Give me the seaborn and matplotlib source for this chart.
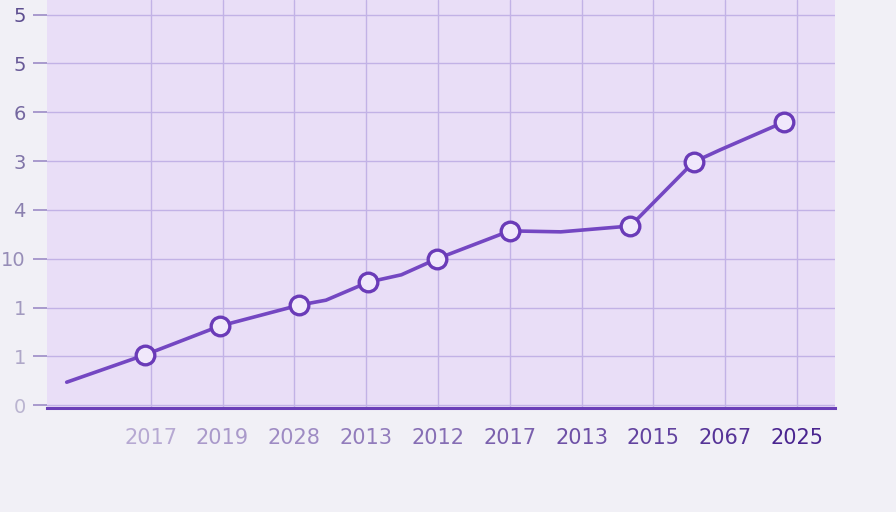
import matplotlib
matplotlib.use('Agg')
import matplotlib.pyplot as plt
import seaborn as sns
import pandas as pd

sns.set_theme(style='whitegrid')
plt.rcParams['font.family'] = ['Liberation Sans Narrow', 'DejaVu Sans']

# tick labels as they appear on the chart
x_labels = ['2017', '2019', '2028', '2013', '2012', '2017', '2013', '2015', '2067', '2025']
y_labels = ['0', '1', '1', '10', '4', '3', '6', '5', '5']

# line path (x in tick-slot units, y in row units)
line_x = [-1.17, -0.08, 0.96, 2.07, 2.44, 3.03, 3.49, 3.99, 5.0, 5.71, 6.68, 7.56, 7.93, 8.82]
line_y = [0.47, 1.03, 1.62, 2.05, 2.15, 2.52, 2.67, 3.0, 3.57, 3.55, 3.67, 4.98, 5.23, 5.8]

# points that carry a marker
mark_x = [-0.08, 0.96, 2.07, 3.03, 3.99, 5.0, 6.68, 7.56, 8.82]
mark_y = [1.03, 1.62, 2.05, 2.52, 3.0, 3.57, 3.67, 4.98, 5.8]

line_df = pd.DataFrame({'x': line_x, 'y': line_y})
mark_df = pd.DataFrame({'x': mark_x, 'y': mark_y})

fig = plt.figure(figsize=(8.96, 5.12), dpi=100)
fig.patch.set_facecolor('#f1f0f6')
ax = fig.add_axes([0.052, 0.203, 0.88, 0.797])
ax.set_facecolor('#e9def7')

sns.lineplot(data=line_df, x='x', y='y', ax=ax, color='#7447c2', linewidth=2.6,
             sort=False, zorder=3)
sns.scatterplot(data=mark_df, x='x', y='y', ax=ax, s=180, marker='o',
                facecolor='#f0e8fb', edgecolor='#6a3bb8', linewidth=2.4, zorder=4)

ax.set_xlim(-1.45, 9.53)
ax.set_ylim(-0.06, 8.3)
ax.set_xticks(range(len(x_labels)))
ax.set_xticklabels(x_labels)
ax.set_yticks(range(len(y_labels)))
ax.set_yticklabels(y_labels)
ax.set_xlabel('')
ax.set_ylabel('')

ax.grid(True, color='#c2b2e6', linewidth=1.0)
ax.set_axisbelow(True)
for side in ['top', 'right', 'left']:
    ax.spines[side].set_visible(False)
ax.spines['bottom'].set_color('#6b3fb8')
ax.spines['bottom'].set_linewidth(2.2)

ax.tick_params(axis='x', length=0, pad=14, labelsize=15)
ax.tick_params(axis='y', length=10, width=1.2, color='#9c8cc6', pad=5, labelsize=14,
               left=True)

n = len(x_labels)
for i, lab in enumerate(ax.get_xticklabels()):
    lab.set_color('#4a2590')
    lab.set_alpha(0.35 + 0.65 * i / (n - 1))
for i, lab in enumerate(ax.get_yticklabels()):
    lab.set_color('#55458a')
    lab.set_fontfamily('DejaVu Sans')
    lab.set_alpha(0.35 + 0.6 * i / (len(y_labels) - 1))

fig.savefig('out.png', dpi=100, facecolor=fig.get_facecolor())
